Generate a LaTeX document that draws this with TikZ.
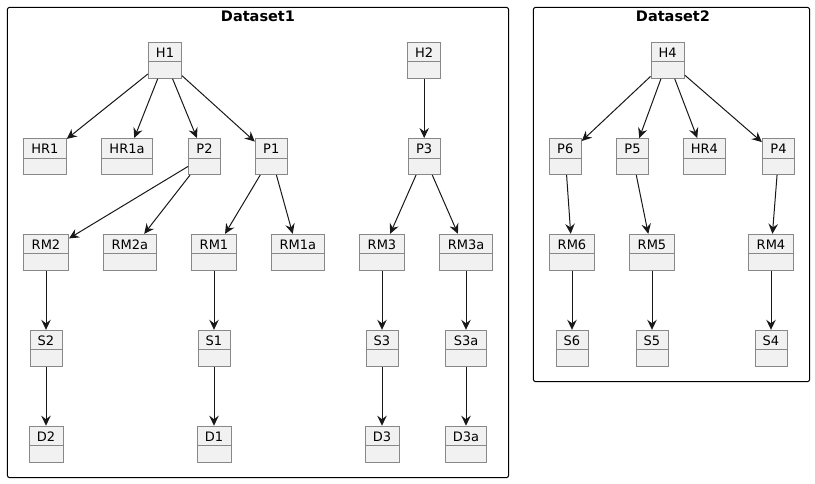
\documentclass[tikz,border=0pt]{standalone}
\usepackage{fontspec}
\setmainfont{DejaVu Sans}
\usetikzlibrary{arrows.meta}

\definecolor{objfill}{HTML}{F1F1F1}
\definecolor{objborder}{HTML}{888888}
\definecolor{linkcol}{HTML}{181818}

\tikzset{
  objbox/.style={draw=objborder, fill=objfill, line width=1pt, rectangle,
    minimum height=36pt, inner sep=0pt},
  objsep/.style={draw=objborder, line width=1pt},
  objname/.style={anchor=base, inner sep=0pt, font=\fontsize{13}{15}\selectfont},
  frame/.style={draw=black, line width=1pt, rounded corners=2.5pt},
  frametitle/.style={anchor=base, inner sep=0pt, font=\fontsize{14.5}{16}\bfseries\selectfont},
  link/.style={draw=linkcol, line width=1pt,
    -{Stealth[length=10pt, width=9.5pt, inset=3.5pt]}},
}

% object box: name, centre, width, label
\newcommand{\umlobj}[4]{%
  \node[objbox, minimum width=#3pt] (#1) at (#2) {};
  \draw[objsep] ([yshift=-20pt]#1.north west) -- ([yshift=-20pt]#1.north east);
  \node[objname] (#1-name) at ([yshift=-15.8pt]#1.north) {#4};
}

\begin{document}
\begin{tikzpicture}[x=1pt, y=-1pt]
  \useasboundingbox (0,0) rectangle (815,483);

  % packages
  \draw[frame] (7.3,7.3) rectangle (508.7,477.7);
  \node[frametitle] (t1) at (258,21.5) {Dataset1};
  \draw[frame] (533.3,7.3) rectangle (809.7,381.7);
  \node[frametitle] (t2) at (673,21.5) {Dataset2};

  % ---- Dataset1 ----
  \umlobj{H1}{165,60.3}{33.3}{H1}
  \umlobj{H2}{424.2,60.3}{33}{H2}

  \umlobj{HR1}{44.8,156.5}{43}{HR1}
  \umlobj{HR1a}{127,156.5}{51.3}{HR1a}
  \umlobj{P2}{204.5,156.5}{31.7}{P2}
  \umlobj{P1}{271.3,156.5}{32}{P1}
  \umlobj{P3}{424.2,156.5}{32}{P3}

  \umlobj{RM2}{46,252.3}{45}{RM2}
  \umlobj{RM2a}{129.8,252.3}{53}{RM2a}
  \umlobj{RM1}{214,252.3}{45}{RM1}
  \umlobj{RM1a}{297.8,252.3}{53}{RM1a}
  \umlobj{RM3}{382,252.3}{45}{RM3}
  \umlobj{RM3a}{466,252.3}{53}{RM3a}

  \umlobj{S2}{46,348.3}{32}{S2}
  \umlobj{S1}{214,348.3}{32}{S1}
  \umlobj{S3}{382,348.3}{32}{S3}
  \umlobj{S3a}{466,348.3}{41}{S3a}

  \umlobj{D2}{46,444.2}{34}{D2}
  \umlobj{D1}{214,444.2}{34}{D1}
  \umlobj{D3}{382,444.2}{34}{D3}
  \umlobj{D3a}{466,444.2}{41.5}{D3a}

  \draw[link] (H1) -- (HR1);
  \draw[link] (H1) -- (HR1a);
  \draw[link] (H1) -- (P2);
  \draw[link] (H1) -- (P1);
  \draw[link] (P2) -- (RM2);
  \draw[link] (P2) -- (RM2a);
  \draw[link] (P1) -- (RM1);
  \draw[link] (P1) -- (RM1a);
  \draw[link] (RM2) -- (S2);
  \draw[link] (S2) -- (D2);
  \draw[link] (RM1) -- (S1);
  \draw[link] (S1) -- (D1);
  \draw[link] (H2) -- (P3);
  \draw[link] (P3) -- (RM3);
  \draw[link] (P3) -- (RM3a);
  \draw[link] (RM3) -- (S3);
  \draw[link] (S3) -- (D3);
  \draw[link] (RM3a) -- (S3a);
  \draw[link] (S3a) -- (D3a);

  % ---- Dataset2 ----
  \umlobj{H4}{667.7,60.3}{33.3}{H4}

  \umlobj{P6}{565.3,156.5}{32}{P6}
  \umlobj{P5}{632.5,156.5}{32.3}{P5}
  \umlobj{HR4}{704.3,156.5}{42}{HR4}
  \umlobj{P4}{778.5,156.5}{32.3}{P4}

  \umlobj{RM6}{572,252.3}{45}{RM6}
  \umlobj{RM5}{652,252.3}{45}{RM5}
  \umlobj{RM4}{771,252.3}{45}{RM4}

  \umlobj{S6}{572,348.3}{32}{S6}
  \umlobj{S5}{652,348.3}{32}{S5}
  \umlobj{S4}{771,348.3}{32}{S4}

  \draw[link] (H4) -- (P6);
  \draw[link] (H4) -- (P5);
  \draw[link] (H4) -- (HR4);
  \draw[link] (H4) -- (P4);
  \draw[link] (P6) -- (RM6);
  \draw[link] (P5) -- (RM5);
  \draw[link] (P4) -- (RM4);
  \draw[link] (RM6) -- (S6);
  \draw[link] (RM5) -- (S5);
  \draw[link] (RM4) -- (S4);
\end{tikzpicture}
\end{document}
